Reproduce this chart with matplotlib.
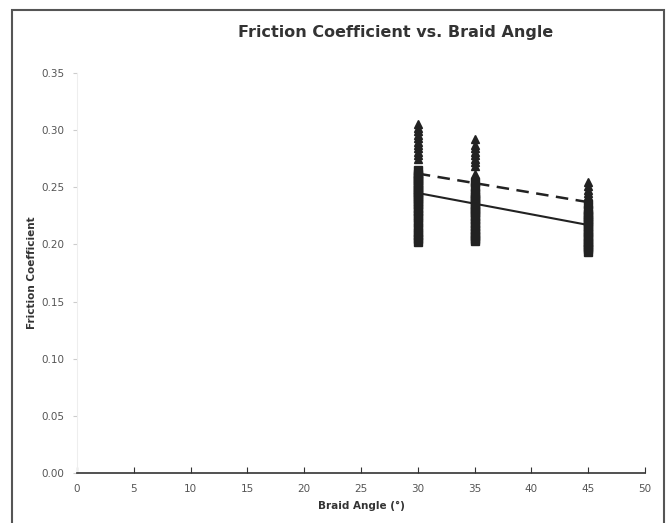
import matplotlib
matplotlib.use("Agg")
import matplotlib.pyplot as plt
from matplotlib.patches import Rectangle

# Data
angles = [30, 35, 45]
squares_30 = [0.265, 0.262, 0.260, 0.258, 0.256, 0.254, 0.252, 0.250, 0.248, 0.246, 0.244, 0.242,
              0.240, 0.237, 0.235, 0.232, 0.229, 0.226, 0.223, 0.219, 0.215, 0.211, 0.208, 0.205, 0.202]
squares_35 = [0.255, 0.250, 0.245, 0.242, 0.240, 0.238, 0.235, 0.232, 0.230, 0.228, 0.225, 0.222,
              0.219, 0.216, 0.213, 0.210, 0.207, 0.205, 0.203]
squares_45 = [0.235, 0.230, 0.227, 0.225, 0.222, 0.220, 0.218, 0.215, 0.212, 0.210, 0.207, 0.205,
              0.202, 0.200, 0.198, 0.196, 0.193]
triangles_30 = [0.305, 0.302, 0.299, 0.296, 0.293, 0.290, 0.287, 0.284, 0.281, 0.278, 0.275,
                0.265, 0.262, 0.258, 0.255, 0.250, 0.245, 0.240, 0.235, 0.230, 0.226]
triangles_35 = [0.292, 0.287, 0.284, 0.281, 0.278, 0.275, 0.272, 0.269,
                0.262, 0.258, 0.255, 0.250, 0.245, 0.240, 0.235, 0.230, 0.228]
triangles_45 = [0.255, 0.251, 0.248, 0.245, 0.242, 0.240, 0.237, 0.235, 0.232, 0.230, 0.227,
                0.225, 0.222, 0.220]
trend_x = [30, 45]
trend_squares = [0.245, 0.217]
trend_triangles = [0.262, 0.237]
x_ticks = list(range(0, 55, 5))
y_ticks = [0.00, 0.05, 0.10, 0.15, 0.20, 0.25, 0.30, 0.35]

ink = "#222222"
fig = plt.figure(figsize=(6.68, 5.23), dpi=100)
fig.patch.set_facecolor("white")

# outer border
fig.patches.append(Rectangle((12/668, -0.02), (664-12)/668, 1.02 - 10/523,
                             transform=fig.transFigure, fill=False,
                             edgecolor="#555555", linewidth=1.5))

ax = fig.add_axes([77/668, 1-473/523, (645-77)/668, (473-73)/523])
ax.set_facecolor("white")

sq_sets = [squares_30, squares_35, squares_45]
tr_sets = [triangles_30, triangles_35, triangles_45]
for a, vals in zip(angles, sq_sets):
    ax.plot([a]*len(vals), vals, linestyle="none", marker="s", markersize=5.5,
            color=ink, markeredgecolor=ink, zorder=3)
for a, vals in zip(angles, tr_sets):
    ax.plot([a]*len(vals), vals, linestyle="none", marker="^", markersize=6,
            color=ink, markeredgecolor=ink, zorder=3)

ax.plot(trend_x, trend_squares, color=ink, linewidth=1.5, zorder=4)
ax.plot(trend_x, trend_triangles, color=ink, linewidth=1.8, linestyle=(0, (5, 3)), zorder=4)

ax.set_xlim(0, 50)
ax.set_ylim(0, 0.35)
ax.set_xticks(x_ticks)
ax.set_yticks(y_ticks)
ax.set_xticklabels([str(v) for v in x_ticks])
ax.set_yticklabels([f"{v:.2f}" for v in y_ticks])

for s in ["top", "right"]:
    ax.spines[s].set_visible(False)
ax.spines["left"].set_color("#eeeeee")
ax.spines["bottom"].set_color("#333333")
ax.spines["bottom"].set_linewidth(1.2)

ax.tick_params(axis="x", direction="in", length=4, color="#333333",
               labelsize=7.5, labelcolor="#555555", pad=8)
ax.tick_params(axis="y", direction="out", length=3, color="#cccccc",
               labelsize=7.5, labelcolor="#555555", pad=6)

ax.set_xlabel("Braid Angle (°)", fontsize=7.5, fontweight="bold", color="#333333", labelpad=5)
ax.set_ylabel("Friction Coefficient", fontsize=7.5, fontweight="bold", color="#333333", labelpad=3)

fig.text(396/668, 1-32/523, "Friction Coefficient vs. Braid Angle", ha="center", va="center",
         fontsize=11.5, fontweight="bold", color="#333333")

fig.savefig("out.png", dpi=100, facecolor="white")
